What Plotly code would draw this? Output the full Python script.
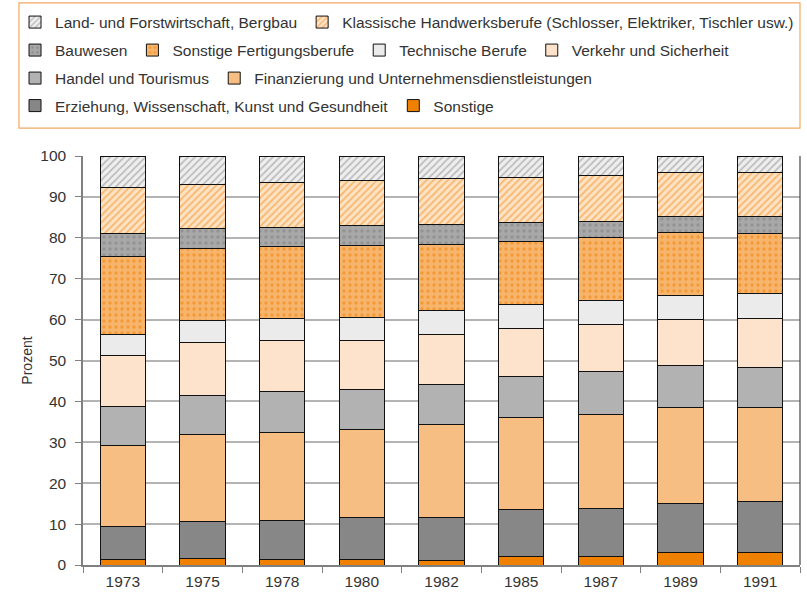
import plotly.graph_objects as go

years = ["1973", "1975", "1978", "1980", "1982", "1985", "1987", "1989", "1991"]

# stacking order: bottom first
sonstige = [1.3, 1.5, 1.3, 1.4, 1.0, 2.2, 2.2, 3.1, 3.0]
erziehung = [8.0, 9.2, 9.6, 10.1, 10.7, 11.3, 11.7, 11.9, 12.5]
finanzierung = [19.9, 21.3, 21.5, 21.7, 22.6, 22.6, 23.0, 23.6, 23.0]
handel = [9.6, 9.5, 9.9, 9.6, 9.9, 10.1, 10.3, 10.3, 9.8]
verkehr = [12.5, 12.9, 12.5, 12.2, 12.2, 11.7, 11.6, 11.2, 11.9]
technische = [5.1, 5.3, 5.5, 5.5, 5.9, 5.7, 5.9, 5.8, 6.2]
sonst_fert = [19.0, 17.6, 17.5, 17.6, 16.1, 15.6, 15.3, 15.4, 14.7]
bauwesen = [5.7, 5.0, 4.7, 4.9, 4.9, 4.6, 4.0, 3.9, 4.0]
klassische = [11.1, 10.7, 11.0, 11.1, 11.1, 11.0, 11.2, 10.7, 10.9]
land = [7.8, 7.0, 6.5, 5.9, 5.6, 5.2, 4.8, 4.1, 4.0]

series = [
    ("Sonstige", sonstige, "#F08000", None, "legend4"),
    ("Erziehung, Wissenschaft, Kunst und Gesundheit", erziehung, "#878787", None, "legend4"),
    ("Finanzierung und Unternehmensdienstleistungen", finanzierung, "#F6BE82", None, "legend3"),
    ("Handel und Tourismus", handel, "#B2B2B2", None, "legend3"),
    ("Verkehr und Sicherheit", verkehr, "#FDE3CC", None, "legend2"),
    ("Technische Berufe", technische, "#EBEBEB", None, "legend2"),
    ("Sonstige Fertigungsberufe", sonst_fert, "#F7B46C",
     dict(shape=".", fgcolor="#F08000", bgcolor="#F7B46C", size=6, solidity=0.25), "legend2"),
    ("Bauwesen", bauwesen, "#A8A8A8",
     dict(shape=".", fgcolor="#7E7E7E", bgcolor="#A8A8A8", size=6, solidity=0.25), "legend2"),
    ("Klassische Handwerksberufe (Schlosser, Elektriker, Tischler usw.)", klassische, "#FDE3C4",
     dict(shape="/", fgcolor="#F28C1E", bgcolor="#FDE3C4", size=5, solidity=0.35), "legend"),
    ("Land- und Forstwirtschaft, Bergbau", land, "#EFEFEF",
     dict(shape="/", fgcolor="#8C8C8C", bgcolor="#EFEFEF", size=5, solidity=0.35), "legend"),
]

fig = go.Figure()
for name, vals, color, pattern, leg in series:
    marker = dict(color=color, line=dict(color="#111111", width=1))
    if pattern:
        marker["pattern"] = pattern
    fig.add_trace(go.Bar(x=years, y=vals, name=name, marker=marker, legend=leg))

font_family = "Liberation Sans, Arial, sans-serif"

def leg(ypos):
    return dict(
        orientation="h", x=-0.0948, xanchor="left", y=ypos, yanchor="middle",
        traceorder="reversed", font=dict(size=15.5, color="#333333", family=font_family),
        bgcolor="rgba(0,0,0,0)", borderwidth=0,
    )

fig.update_layout(
    width=807, height=596,
    margin=dict(l=83, r=7, t=155, b=31),
    barmode="stack", bargap=0.435,
    plot_bgcolor="white", paper_bgcolor="white",
    font=dict(family=font_family, size=15.5, color="#333333"),
    legend=leg(1.3232), legend2=leg(1.2549), legend3=leg(1.1866), legend4=leg(1.1195),
    showlegend=True,
    xaxis=dict(
        type="category", showline=True, linecolor="#808080", linewidth=1.5,
        ticks="outside", tickson="boundaries", ticklen=6, tickcolor="#808080",
        ticklabelstandoff=2, automargin=False,
        tickfont=dict(size=15.5, color="#333333"), showgrid=False,
    ),
    yaxis=dict(
        range=[0, 100], dtick=10, showgrid=True, gridcolor="#B4B4B4", gridwidth=1.5,
        showline=True, linecolor="#808080", linewidth=1.5,
        ticks="outside", ticklen=6, tickcolor="#808080", ticklabelstandoff=6,
        automargin=False,
        tickfont=dict(size=15.5, color="#333333"),
        title=dict(text="Prozent", font=dict(size=14, color="#333333"), standoff=4),
        zeroline=False,
    ),
    shapes=[
        dict(type="rect", xref="paper", yref="paper",
             x0=-0.0893, x1=1.0, y0=1.0683, y1=1.3744,
             line=dict(color="#F2A860", width=1.2), fillcolor="rgba(0,0,0,0)", layer="below"),
        dict(type="line", xref="paper", yref="paper", x0=1, x1=1, y0=0, y1=1,
             line=dict(color="#444444", width=1.2)),
    ],
)

fig.write_html(
    "out.html",
    config={"displayModeBar": False},
    post_script="document.body.style.margin='0';document.body.style.padding='0';",
)
